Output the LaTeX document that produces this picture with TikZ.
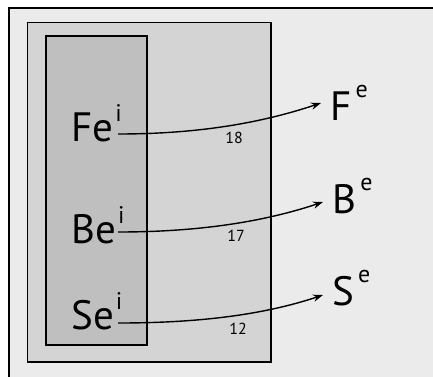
\documentclass[tikz,border=0pt]{standalone}
\usepackage{fontspec}
\setmainfont{PT Sans}
\usetikzlibrary{arrows.meta,positioning}

\definecolor{pagebg}{HTML}{EBEBEB}
\definecolor{outerbg}{HTML}{D4D4D4}
\definecolor{innerbg}{HTML}{BFBFBF}

\tikzset{
  elem/.style={anchor=base west, inner sep=0pt, font=\fontsize{20.5}{21}\selectfont},
  flow/.style={-{Stealth[length=5pt,width=3.6pt]}, line width=0.7pt},
  weight/.style={inner sep=0pt, font=\fontsize{8}{9}\selectfont},
}
\newcommand{\supidx}[2]{\raisebox{#1}{\fontsize{12}{13}\selectfont #2}}

\begin{document}
\begin{tikzpicture}[x=0.5pt, y=-0.5pt]
\useasboundingbox (0,0) rectangle (433,376);
\clip (0,0) rectangle (433,376);
% panels
\draw[line width=1pt, fill=pagebg] (8.5,7.5) rectangle (445,390);
\draw[line width=0.8pt, fill=outerbg] (27.5,22.5) rectangle (271,362);
\draw[line width=0.8pt, fill=innerbg] (46,36) rectangle (147,345);
% rows: name/inner/outer/y/x'/y'/weight/wx/wy/start shift/end shift
\foreach \n/\S/\D/\sy/\dx/\dy/\w/\wx/\wy/\su/\eu in {
    f/Fe/F/141/330/120/18/234/138/3.5/8.5,
    b/Be/B/243/332/213/17/236/236/5.5/5.5,
    s/Se/S/329/332/305/12/238/329/3/5}{
  \node[elem] (int-\n) at (71,\sy) {\S\hspace{1pt}\supidx{10pt}{i}};
  \node[elem] (ext-\n) at (\dx,\dy) {\D\hspace{2pt}\supidx{11.5pt}{e}};
  \draw[flow] ([xshift=23.5pt,yshift=\su pt]int-\n.base west)
    .. controls +(80,0) and +(-60,20) .. ([xshift=-4.5pt,yshift=\eu pt]ext-\n.base west);
  \node[weight] (w-\n) at (\wx,\wy) {\w};
}
\end{tikzpicture}
\end{document}
